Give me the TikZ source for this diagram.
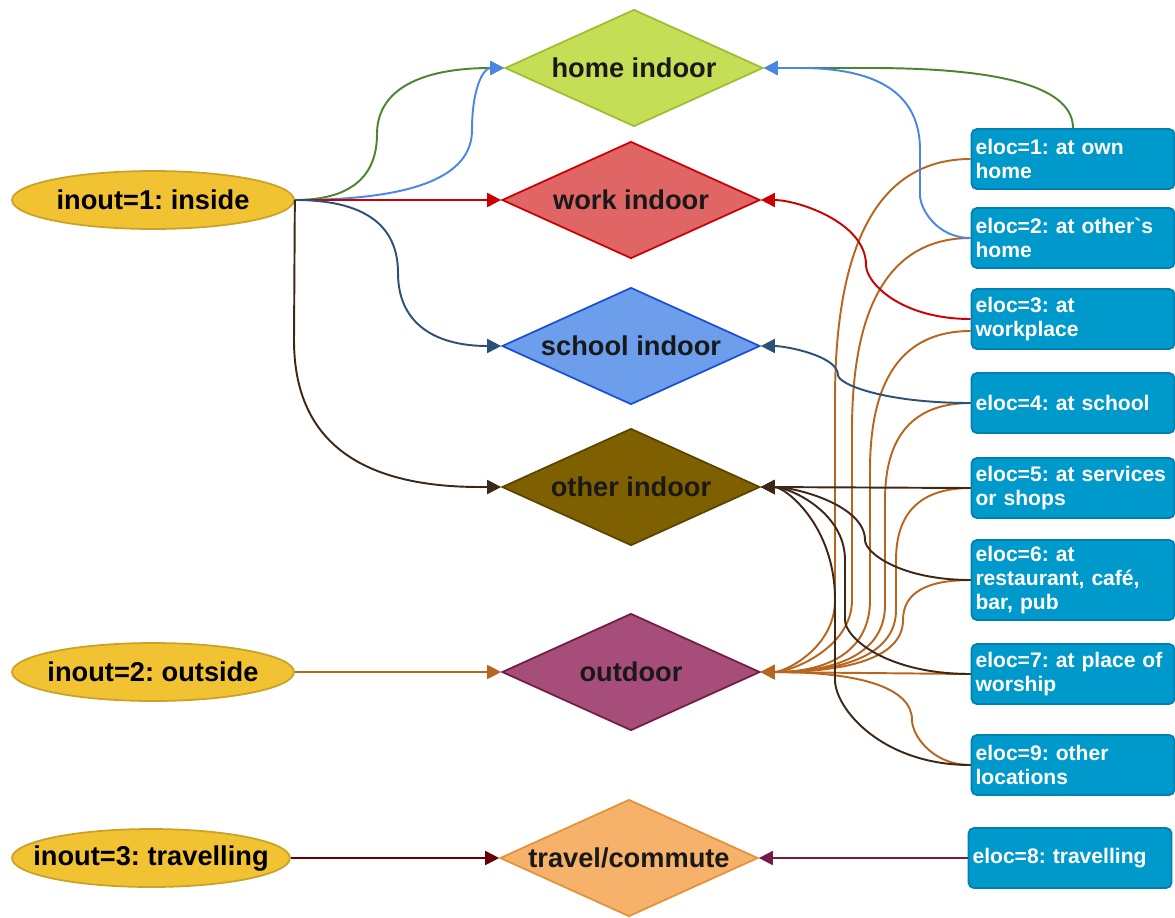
\documentclass[tikz,border=0pt]{standalone}
\usepackage{fontspec}
\setmainfont{Liberation Sans}
\usetikzlibrary{shapes.geometric,arrows.meta}
\frenchspacing

\definecolor{giallo}{HTML}{F1C232}
\definecolor{giallobordo}{HTML}{C9A227}
\definecolor{casafill}{HTML}{C5DE55}
\definecolor{casabordo}{HTML}{9DBE32}
\definecolor{lavorofill}{HTML}{E06666}
\definecolor{lavorobordo}{HTML}{CC0000}
\definecolor{scuolafill}{HTML}{6D9EEB}
\definecolor{scuolabordo}{HTML}{1C4FD6}
\definecolor{altrofill}{HTML}{7F6000}
\definecolor{altrobordo}{HTML}{5C4400}
\definecolor{apertofill}{HTML}{A64D79}
\definecolor{apertobordo}{HTML}{741B47}
\definecolor{viaggiofill}{HTML}{F6B26B}
\definecolor{viaggiobordo}{HTML}{E69138}
\definecolor{boxfill}{HTML}{0099CC}
\definecolor{boxbordo}{HTML}{0080B0}
\definecolor{verde}{HTML}{4A8530}
\definecolor{blu}{HTML}{4A86E8}
\definecolor{rosso}{HTML}{CC0000}
\definecolor{bluscuro}{HTML}{2B5178}
\definecolor{marrone}{HTML}{3D2817}
\definecolor{arancio}{HTML}{B8661E}
\definecolor{rossoscuro}{HTML}{660000}
\definecolor{viola}{HTML}{741B47}

\begin{document}
\begin{tikzpicture}[x=0.02cm, y=-0.02cm,
    ingresso/.style={ellipse, draw=giallobordo, fill=giallo, line width=1pt,
        minimum width=5.64cm, minimum height=1.16cm, inner sep=0pt,
        font=\fontsize{15.5}{18}\selectfont\bfseries},
    luogo/.style={diamond, aspect=2.2, line width=1pt, minimum width=5.16cm,
        minimum height=2.34cm, inner sep=0pt, text=black!90,
        font=\fontsize{15.5}{18}\selectfont\bfseries},
    posto/.style={draw=boxbordo, fill=boxfill, rounded corners=3pt, line width=1pt,
        minimum width=4.06cm, minimum height=1.2cm, text width=3.9cm,
        inner xsep=0.08cm, align=left, text=white,
        font=\fontsize{12}{13.6}\selectfont\bfseries},
    freccia/.style={-{Triangle[length=0.28cm,width=0.28cm]}, line width=1.1pt}]
    \useasboundingbox (0,0) rectangle (1175,917);

    % Condizioni inout (ellissi)
    \node[ingresso] (dentro) at (153,200) {\makebox[0pt]{inout=1: inside}};
    \node[ingresso] (fuori) at (153,672) {\makebox[0pt]{inout=2: outside}};
    \node[ingresso, minimum width=5.56cm] (viaggio) at (151,858) {\makebox[0pt]{inout=3: travelling}};

    % Luoghi (rombi)
    \node[luogo, fill=casafill, draw=casabordo] (casa) at (634,68) {home indoor};
    \node[luogo, fill=lavorofill, draw=lavorobordo] (lavoro) at (631,200) {work indoor};
    \node[luogo, fill=scuolafill, draw=scuolabordo] (scuola) at (631,346) {school indoor};
    \node[luogo, fill=altrofill, draw=altrobordo] (altro) at (631,487) {other indoor};
    \node[luogo, fill=apertofill, draw=apertobordo] (aperto) at (631,672) {outdoor};
    \node[luogo, fill=viaggiofill, draw=viaggiobordo] (tragitto) at (629,858) {travel/commute};

    % Codici eloc (riquadri)
    \node[posto] (e1) at (1073,159) {eloc=1: at own\\home};
    \node[posto] (e2) at (1073,238) {eloc=2: at other\textasciigrave s\\home};
    \node[posto] (e3) at (1073,319) {eloc=3: at\\workplace};
    \node[posto] (e4) at (1073,403) {eloc=4: at school};
    \node[posto] (e5) at (1073,488) {eloc=5: at services\\or shops};
    \node[posto, minimum height=1.6cm] (e6) at (1073,580) {eloc=6: at\\restaurant, café,\\bar, pub};
    \node[posto] (e7) at (1073,674) {eloc=7: at place of\\worship};
    \node[posto] (e9) at (1073,765) {eloc=9: other\\locations};
    \node[posto] (e8) at (1070,858) {eloc=8: travelling};

    % Collegamenti da sinistra
    \draw[freccia, verde] (dentro.east) .. controls (349,200) and (377,178) .. (377,134)
        .. controls (377,90) and (420,68) .. (casa.west);
    \draw[freccia, blu] (dentro.east) .. controls (413,200) and (472,177) .. (472,130)
        .. controls (472,89) and (483,68) .. (casa.west);
    \draw[freccia, rosso] (dentro.east) -- (lavoro.west);
    \draw[freccia, bluscuro] (dentro.east) .. controls (363,200) and (398,224) .. (398,273)
        .. controls (398,322) and (433,346) .. (scuola.west);
    \draw[freccia, marrone] (dentro.east) -- (294,340) .. controls (294,438) and (356,487) .. (480,487)
        -- (altro.west);
    \draw[freccia, arancio] (fuori.east) -- (aperto.west);
    \draw[freccia, rossoscuro] (viaggio.east) -- (tragitto.west);

    % Collegamenti verso l'esterno (arancio)
    \draw[freccia, arancio] (e1.west) .. controls (881,159) and (835,239) .. (835,400) -- (835,600)
        .. controls (835,648) and (785,672) .. (aperto.east);
    \draw[freccia, arancio] (e2.west) .. controls (892,238) and (852,302) .. (852,430) -- (852,600)
        .. controls (852,648) and (791,672) .. (aperto.east);
    \draw[freccia, arancio] ([yshift=-0.24cm]e3.west) .. controls (904,331) and (870,377) .. (870,470) -- (870,600)
        .. controls (870,648) and (833,672) .. (aperto.east);
    \draw[freccia, arancio] (e4.west) .. controls (914,403) and (885,435) .. (885,500) -- (885,605)
        .. controls (885,650) and (843,672) .. (aperto.east);
    \draw[freccia, arancio] (e5.west) .. controls (921,488) and (896,512) .. (896,560) -- (896,610)
        .. controls (896,651) and (851,672) .. (aperto.east);
    \draw[freccia, arancio] (e6.west) .. controls (926,580) and (903,593) .. (903,620)
        .. controls (903,655) and (855,672) .. (aperto.east);
    \draw[freccia, arancio] (e7.west) -- (aperto.east);
    \draw[freccia, arancio] (e9.west) .. controls (932,765) and (912,735) .. (912,720)
        .. controls (912,688) and (861,672) .. (aperto.east);

    % Collegamenti da destra
    \draw[freccia, verde] (e1.north) .. controls (1073,88) and (1005,68) .. (870,68) -- (casa.east);
    \draw[freccia, blu] (e2.west) .. controls (937,238) and (920,209) .. (920,195) -- (920,150)
        .. controls (920,95) and (880,68) .. (800,68) -- (casa.east);
    \draw[freccia, rosso] (e3.west) .. controls (901,319) and (866,283) .. (866,265)
        .. controls (866,222) and (797,200) .. (lavoro.east);
    \draw[freccia, bluscuro] (e4.west) .. controls (883,403) and (838,384) .. (838,375)
        .. controls (838,356) and (786,346) .. (scuola.east);
    \draw[freccia, marrone] (e5.west) -- (altro.east);
    \draw[freccia, marrone] (e6.west) .. controls (901,580) and (865,553) .. (865,540)
        .. controls (865,505) and (795,487) .. (altro.east);
    \draw[freccia, marrone] (e7.west) .. controls (887,674) and (845,638) .. (845,620) -- (845,560)
        .. controls (845,511) and (788,487) .. (altro.east);
    \draw[freccia, marrone] (e9.west) .. controls (881,765) and (835,708) .. (835,680) -- (835,600)
        .. controls (835,525) and (785,487) .. (altro.east);
    \draw[freccia, viola] (e8.west) -- (tragitto.east);
\end{tikzpicture}
\end{document}
